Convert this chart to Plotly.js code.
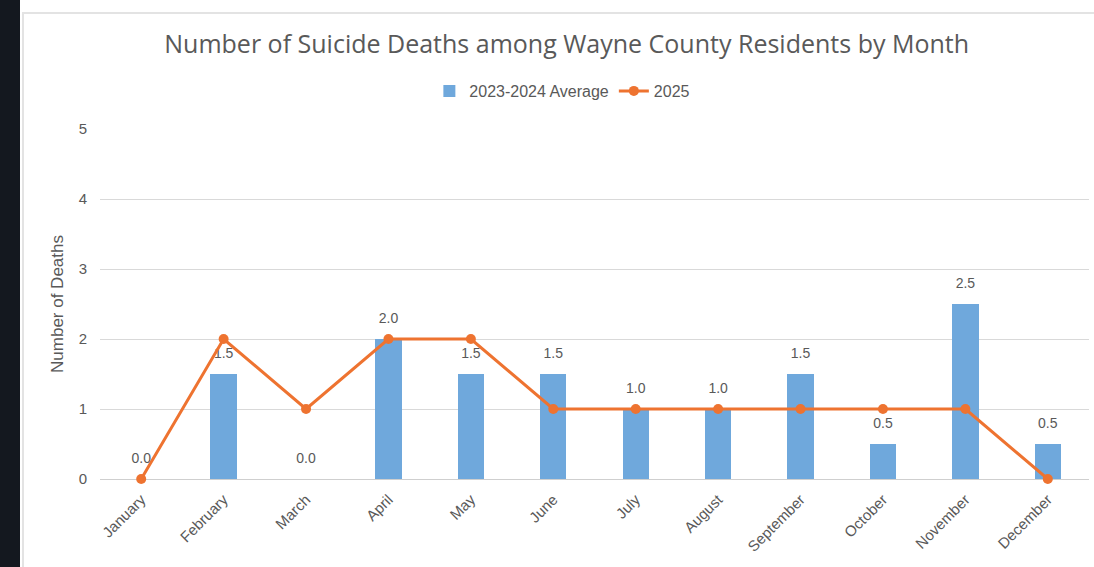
<!DOCTYPE html>
<html>
<head>
<meta charset="utf-8">
<script src="https://cdn.plot.ly/plotly-3.0.1.min.js"></script>
<style>
  html, body { margin:0; padding:0; width:1094px; height:567px; overflow:hidden; background:#14181f; }
  #wrap { position:absolute; left:20px; top:0; width:1074px; height:567px; background:#ffffff; }
  #chart { position:absolute; left:0; top:0; width:1074px; height:567px; }
  #frame { position:absolute; left:2px; top:12px; width:1100px; height:600px; border:2px solid #e3e3e3; pointer-events:none; }
</style>
</head>
<body>
<div id="wrap">
  <div id="chart"></div>
  <div id="frame"></div>
</div>
<script>
const months = ["January","February","March","April","May","June","July","August","September","October","November","December"];
const avg2023_2024 = [0.0, 1.5, 0.0, 2.0, 1.5, 1.5, 1.0, 1.0, 1.5, 0.5, 2.5, 0.5];
const deaths2025 = [0, 2, 1, 2, 2, 1, 1, 1, 1, 1, 1, 0];
const yTicks = [0, 1, 2, 3, 4, 5];

const grey = "#595959";
const traces = [
  {
    type: "bar",
    name: "2023-2024 Average",
    x: months,
    y: avg2023_2024,
    marker: { color: "#6FA8DC" },
    width: 0.32
  },
  {
    type: "scatter",
    mode: "markers+text",
    showlegend: false,
    hoverinfo: "skip",
    x: months,
    y: avg2023_2024,
    text: avg2023_2024.map(v => v.toFixed(1)),
    textposition: "top center",
    marker: { size: 18, color: "rgba(0,0,0,0)" },
    cliponaxis: false,
    textfont: { family: "Liberation Sans, Arial, sans-serif", size: 14, color: grey }
  },
  {
    type: "scatter",
    mode: "lines+markers",
    name: "2025",
    x: months,
    y: deaths2025,
    line: { color: "#EE7330", width: 3 },
    marker: { color: "#EE7330", size: 10 },
    cliponaxis: false
  }
];

const layout = {
  width: 1074,
  height: 567,
  margin: { l: 80, r: 5, t: 129, b: 88 },
  paper_bgcolor: "rgba(0,0,0,0)",
  plot_bgcolor: "#ffffff",
  font: { family: "Liberation Sans, Arial, sans-serif", color: grey },
  title: {
    text: "Number of Suicide Deaths among Wayne County Residents by Month",
    font: { family: "Open Sans, sans-serif", size: 25, color: grey },
    x: 0.509, xref: "container", xanchor: "center",
    y: 1 - 44/567, yref: "container", yanchor: "middle"
  },
  legend: {
    orientation: "h",
    x: 0.505, xref: "container", xanchor: "center",
    y: 1 - 91/567, yref: "container", yanchor: "middle",
    font: { size: 16, color: grey },
    itemwidth: 30
  },
  bargap: 0,
  xaxis: {
    range: [-0.5, 11.5],
    automargin: false,
    tickangle: -45,
    tickfont: { size: 15, color: grey },
    ticklabelstandoff: 8,
    showgrid: false,
    showline: false,
    ticks: ""
  },
  yaxis: {
    range: [0, 5],
    automargin: false,
    tickvals: yTicks,
    ticktext: yTicks.map(String),
    gridcolor: "#d9d9d9",
    gridwidth: 1,
    zeroline: true,
    zerolinecolor: "#cfcfcf",
    zerolinewidth: 1,
    tickfont: { size: 15, color: grey },
    ticklabelstandoff: 12,
    title: { text: "Number of Deaths", font: { size: 17, color: grey }, standoff: 10 }
  }
};

Plotly.newPlot("chart", traces, layout, { displayModeBar: false, staticPlot: true });
</script>
</body>
</html>
